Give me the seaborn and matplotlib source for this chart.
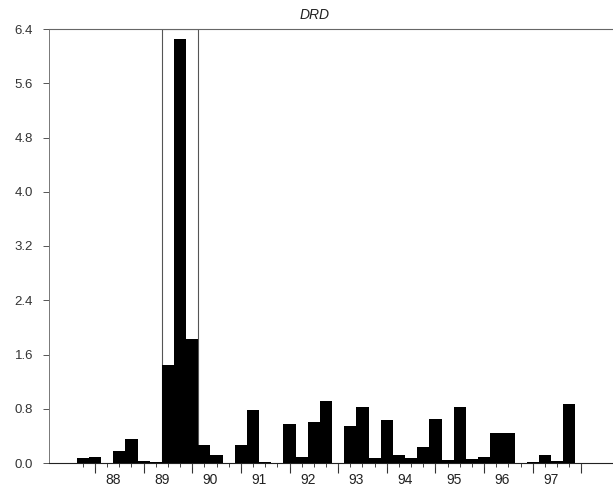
import numpy as np
import pandas as pd
import matplotlib
matplotlib.use("Agg")
import matplotlib.pyplot as plt
import seaborn as sns

# ---- data (quarterly, 1987Q2 .. 1997Q2) ----
quarters = [f"{y % 100:02d}Q{q}" for y in range(1987, 1998) for q in range(1, 5)][1:42]
values = [0.07, 0.09, 0.0, 0.18, 0.36, 0.025, 0.015, 1.44, 6.25, 1.83,
          0.26, 0.12, 0.0, 0.26, 0.78, 0.015, 0.0, 0.58, 0.09, 0.60,
          0.92, 0.0, 0.55, 0.83, 0.08, 0.64, 0.12, 0.08, 0.23, 0.65,
          0.05, 0.83, 0.06, 0.095, 0.44, 0.44, 0.0, 0.01, 0.12, 0.025,
          0.87]
year_labels = ["88", "89", "90", "91", "92", "93", "94", "95", "96", "97"]
yticks = [0.0, 0.8, 1.6, 2.4, 3.2, 4.0, 4.8, 5.6, 6.4]
highlight = ["89Q1", "89Q3"]
title = "DRD"

df = pd.DataFrame({"quarter": quarters, "value": values})

sns.set_style("white")
plt.rcParams["font.family"] = ["Liberation Sans", "DejaVu Sans"]

fig = plt.figure(figsize=(6.13, 4.93), dpi=100)
ax = fig.add_axes([49 / 613, 30 / 493, 1 - 49 / 613, 434 / 493])

sns.barplot(data=df, x="quarter", y="value", order=quarters, color="black",
            saturation=1, width=1.0, linewidth=0, ax=ax, zorder=3)

# highlight box around 1989 Q1-Q3
i0 = quarters.index(highlight[0]) - 0.5
i1 = quarters.index(highlight[1]) + 0.5
ax.axvspan(i0, i1, fill=False, edgecolor="#555555", linewidth=0.8, zorder=1)

ax.set_ylim(0, 6.4)
ax.set_xlim(-2.78, 43.6)
ax.set_yticks(yticks)
ax.set_yticklabels([f"{v:.1f}" for v in yticks])
ax.tick_params(axis="y", left=True, length=4, width=0.7, color="#555555",
               pad=7.5, labelsize=9.5, labelcolor="#333333")

# year labels (no tick marks)
first_year_q = quarters.index("88Q1") - 0.5
label_pos = [first_year_q + 4 * i for i in range(len(year_labels))]
ax.set_xticks(label_pos)
ax.set_xticklabels(year_labels)
ax.tick_params(axis="x", which="major", length=0, pad=7.5, labelsize=10,
               labelcolor="#222222")
# quarter ticks
ax.set_xticks(np.arange(0, len(quarters) + 1), minor=True)
ax.tick_params(axis="x", which="minor", bottom=True, length=3, width=0.7,
               color="#444444")

# longer ticks at every fourth quarter
sec = ax.secondary_xaxis("bottom")
sec.set_xticks(np.arange(1, len(quarters) + 1, 4))
sec.tick_params(length=7, width=0.8, color="#333333", labelbottom=False)
sec.spines["bottom"].set_visible(False)

ax.set_xlabel("")
ax.set_ylabel("")
ax.spines["right"].set_visible(False)
ax.spines["top"].set_color("#666666")
ax.spines["top"].set_linewidth(0.8)
ax.spines["left"].set_color("#777777")
ax.spines["left"].set_linewidth(0.7)
ax.spines["bottom"].set_color("#222222")
ax.spines["bottom"].set_linewidth(0.8)

fig.text(315 / 613, 1 - 15 / 493, title, ha="center", va="center",
         fontsize=10, style="italic", color="#222222")

fig.savefig("out.png", dpi=100)
